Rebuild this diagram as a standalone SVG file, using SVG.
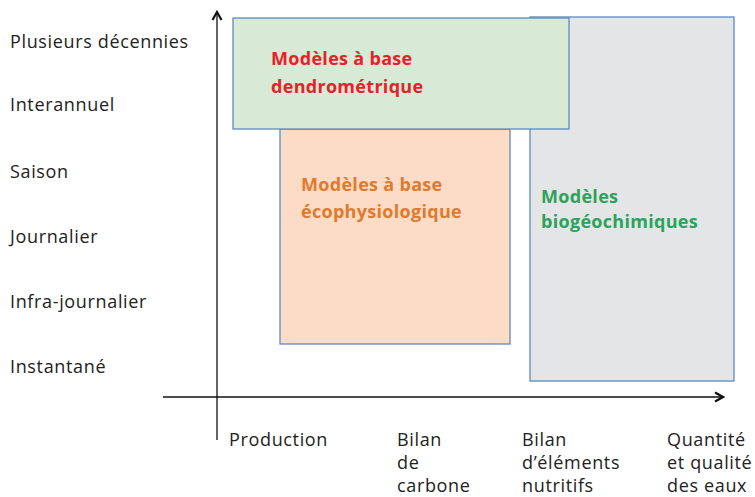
<svg xmlns="http://www.w3.org/2000/svg" width="755" height="497" viewBox="0 0 755 497">
  <style>
    .lbl { font-family: "Open Sans", "Liberation Sans", sans-serif; font-size: 18px; letter-spacing: 0.65px; fill: #222; }
    .ttl { font-family: "Open Sans", "Liberation Sans", sans-serif; font-size: 18px; letter-spacing: 0.3px; font-weight: bold; }
    .box { stroke: #5a8ac0; stroke-width: 1.3; }
    .axis { stroke: #111; stroke-width: 1.3; fill: none; }
  </style>
  <defs>
    <marker id="chev" viewBox="0 0 12 12" refX="10" refY="6" markerWidth="12" markerHeight="12" markerUnits="userSpaceOnUse" orient="auto">
      <polyline points="2,1.5 10,6 2,10.5" fill="none" stroke="#111" stroke-width="2.2"/>
    </marker>
  </defs>

  <rect width="755" height="497" fill="#fff"/>

  <!-- axes -->
  <g id="connectors">
    <line class="axis" x1="217" y1="440" x2="217" y2="12" marker-end="url(#chev)"/>
    <line class="axis" x1="163" y1="397" x2="723" y2="397" marker-end="url(#chev)"/>
  </g>

  <!-- model domains -->
  <g id="biogeochimiques">
    <rect class="box" x="530" y="17" width="204" height="364" fill="#e4e5e7"/>
    <text class="ttl" fill="#2ba35a" x="541" y="203">Modèles</text>
    <text class="ttl" fill="#2ba35a" x="541" y="228">biogéochimiques</text>
  </g>
  <g id="ecophysiologique">
    <rect class="box" x="280" y="129" width="230" height="215" fill="#fcdcc7"/>
    <text class="ttl" fill="#df7a2e" x="301" y="191">Modèles à base</text>
    <text class="ttl" fill="#df7a2e" x="301" y="218">écophysiologique</text>
  </g>
  <g id="dendrometrique">
    <rect class="box" x="233" y="18" width="336" height="111" fill="#d8ead6"/>
    <text class="ttl" fill="#e8202a" x="271" y="65">Modèles à base</text>
    <text class="ttl" fill="#e8202a" x="271" y="93">dendrométrique</text>
  </g>

  <!-- time scales -->
  <g id="y-labels">
    <text class="lbl" x="10" y="48">Plusieurs décennies</text>
    <text class="lbl" x="10" y="111">Interannuel</text>
    <text class="lbl" x="10" y="178">Saison</text>
    <text class="lbl" x="10" y="243">Journalier</text>
    <text class="lbl" x="10" y="308">Infra-journalier</text>
    <text class="lbl" x="10" y="373">Instantané</text>
  </g>

  <!-- processes -->
  <g id="x-labels">
    <text class="lbl" x="229" y="446">Production</text>
    <text class="lbl" x="397" y="446">Bilan</text>
    <text class="lbl" x="397" y="469">de</text>
    <text class="lbl" x="397" y="492">carbone</text>
    <text class="lbl" x="522" y="446">Bilan</text>
    <text class="lbl" x="522" y="469">d’éléments</text>
    <text class="lbl" x="522" y="492">nutritifs</text>
    <text class="lbl" x="667" y="446">Quantité</text>
    <text class="lbl" x="667" y="469">et qualité</text>
    <text class="lbl" x="667" y="492">des eaux</text>
  </g>
</svg>
